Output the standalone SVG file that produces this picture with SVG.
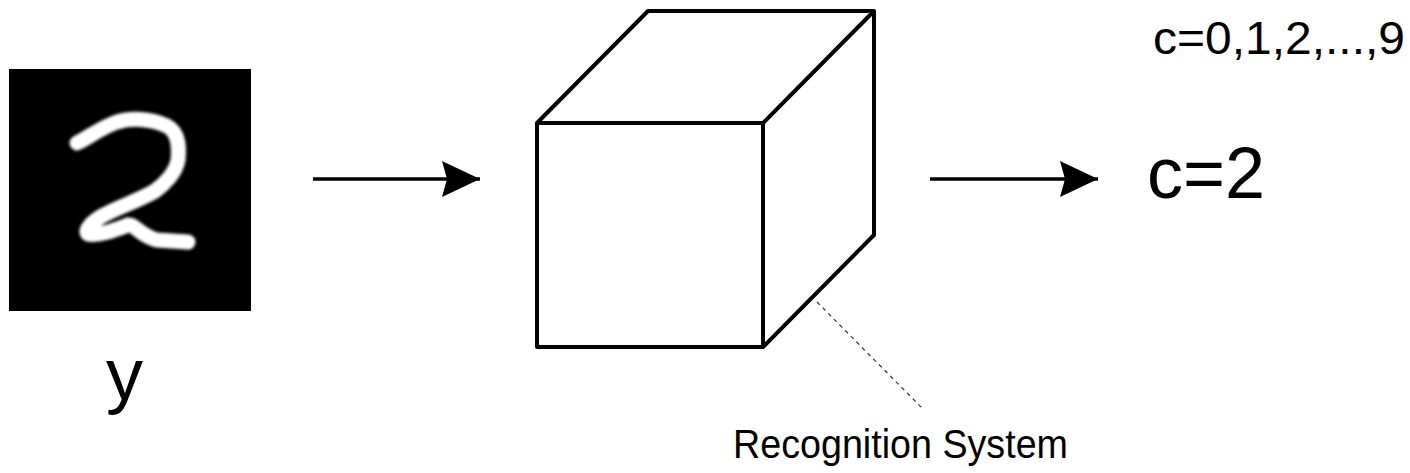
<svg xmlns="http://www.w3.org/2000/svg" width="1410" height="473" viewBox="0 0 1410 473">
<style>
.t{font-family:"Liberation Sans",Arial,sans-serif;fill:#000}
.edge{stroke:#000;stroke-width:3.5;fill:none}
.cube{stroke:#000;stroke-width:4;fill:#fff;stroke-linejoin:round}
</style>
<defs>
<marker id="ah" markerUnits="userSpaceOnUse" markerWidth="40" markerHeight="40" refX="38" refY="19" orient="auto">
<path d="M0,1 L38,19 L0,37 L5,19 z" fill="#000"/>
</marker>
<filter id="blur" x="-10%" y="-10%" width="120%" height="120%"><feGaussianBlur stdDeviation="1.4"/></filter>
</defs>
<rect width="1410" height="473" fill="#fff"/>
<g id="connectors">
<line class="edge" x1="313" y1="179" x2="480" y2="179" marker-end="url(#ah)"/>
<line class="edge" x1="930" y1="179" x2="1098" y2="179" marker-end="url(#ah)"/>
<line x1="817" y1="302" x2="922" y2="408" stroke="#333" stroke-width="1.2" stroke-dasharray="4 4"/>
</g>
<g id="input-image">
<rect x="9" y="69" width="242" height="242" fill="#000"/>
<path d="M77,143 C88,138 100,128 117,122 C130,118 150,118 167,126 C180,133 179,150 178,160 C176,172 165,184 155,191 C140,200 118,207 102,216 C92,222 84,230 88,234 C100,236 115,230 128,225 C135,224 140,236 157,240 L188,242" fill="none" stroke="#fff" stroke-width="15" stroke-linecap="round" stroke-linejoin="round" filter="url(#blur)"/>
</g>
<g id="input-label"><text class="t" x="106" y="400" font-size="74">y</text></g>
<g id="recognition-system">
<polygon class="cube" points="537,123 648,11 874,11 874,235 763,347 537,347"/>
<polyline class="cube" points="537,123 763,123 874,11" fill="none"/>
<line class="cube" x1="763" y1="123" x2="763" y2="347"/>
</g>
<g id="system-label"><text class="t" x="733" y="458" font-size="40" textLength="335" lengthAdjust="spacingAndGlyphs">Recognition System</text></g>
<g id="output"><text class="t" x="1147" y="198" font-size="72">c=2</text></g>
<g id="classes"><text class="t" x="1153" y="54" font-size="47" textLength="252" lengthAdjust="spacingAndGlyphs">c=0,1,2,...,9</text></g>
</svg>
